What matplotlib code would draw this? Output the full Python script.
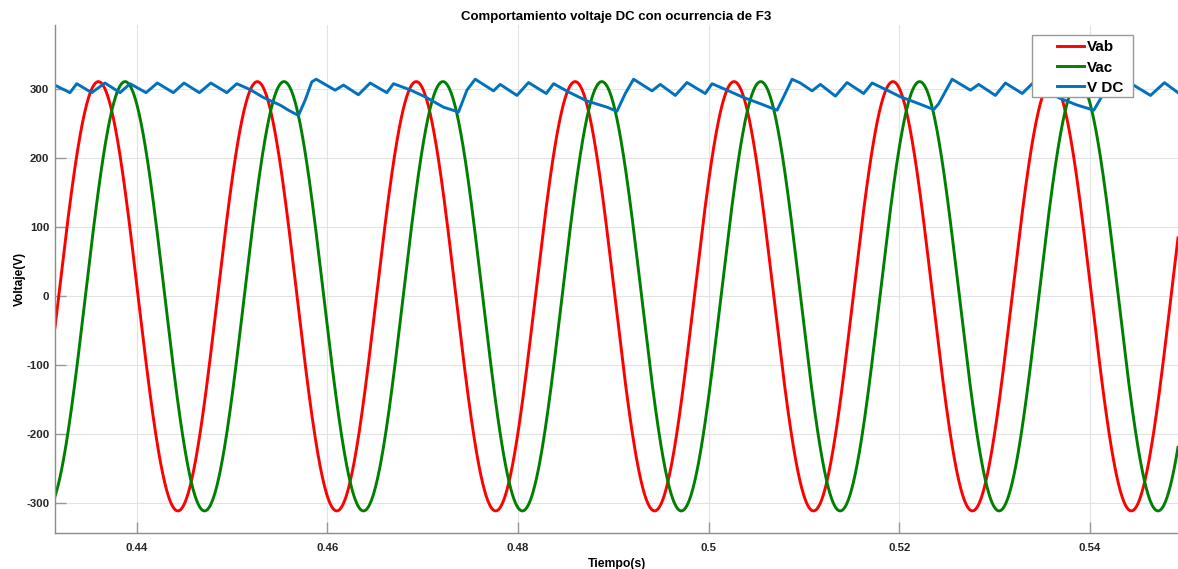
import numpy as np
import matplotlib
matplotlib.use('Agg')
import matplotlib.pyplot as plt
from matplotlib.patches import Rectangle

plt.rcParams['font.family'] = ['Liberation Sans', 'DejaVu Sans']
plt.rcParams['axes.unicode_minus'] = False

# sine parameters
AMPLITUDE = 311.0
FREQ = 60.0
VAB_PEAK = 0.4360
VAC_PEAK = 0.4388
T_START = 0.43145
T_END = 0.54923

# DC bus voltage, read point by point
vdc_t = [0.43145, 0.43302, 0.43373, 0.43530, 0.43669, 0.43827, 0.43932, 0.44100,
         0.44218, 0.44386, 0.44498, 0.44659, 0.44779, 0.44947, 0.45051, 0.45191,
         0.45331, 0.45506, 0.45593, 0.45698, 0.45768, 0.45838, 0.45884, 0.46083,
         0.46170, 0.46327, 0.46450, 0.46625, 0.46695, 0.46870, 0.47027, 0.47219,
         0.47377, 0.47465, 0.47552, 0.47744, 0.47814, 0.47990, 0.48111, 0.48297,
         0.48374, 0.48531, 0.48724, 0.48934, 0.49039, 0.49126, 0.49213, 0.49406,
         0.49493, 0.49651, 0.49773, 0.49965, 0.50036, 0.50193, 0.50367, 0.50543,
         0.50718, 0.50787, 0.50875, 0.50962, 0.51085, 0.51172, 0.51330, 0.51452,
         0.51626, 0.51715, 0.51872, 0.52012, 0.52187, 0.52361, 0.52413, 0.52554,
         0.52746, 0.52833, 0.53008, 0.53113, 0.53289, 0.53394, 0.53544, 0.53690,
         0.53866, 0.54040, 0.54110, 0.54215, 0.54393, 0.54456, 0.54635, 0.54781,
         0.54923]
vdc_v = [305.8, 295, 308, 295, 309, 295, 308, 295,
         309, 295, 309, 295, 309, 295, 308, 299.5,
         288, 277, 269.6, 262, 284, 310.6, 314.5, 298.6,
         306, 292, 309, 295, 308, 299, 289, 274,
         267, 298.6, 314.5, 297.6, 307, 291, 309.7, 293.8,
         308, 296, 283, 274, 268, 293.8, 314.5, 297.6,
         307, 291, 309.7, 293.8, 308, 298.6, 288, 279,
         269.6, 289, 314.5, 309, 297.6, 307, 290, 309.7,
         293.8, 309, 298.6, 289, 280, 270.6, 279, 314.5,
         298.6, 307, 291, 309, 293.8, 308, 297, 286.5,
         277, 269.6, 286, 314.5, 298.6, 306, 291, 309.5,
         295]

x_ticks = [0.44, 0.46, 0.48, 0.5, 0.52, 0.54]
x_tick_labels = ['0.44', '0.46', '0.48', '0.5', '0.52', '0.54']
y_ticks = [-300, -200, -100, 0, 100, 200, 300]

t = np.linspace(T_START, T_END, 4000)
vab = AMPLITUDE * np.cos(2 * np.pi * FREQ * (t - VAB_PEAK))
vac = AMPLITUDE * np.cos(2 * np.pi * FREQ * (t - VAC_PEAK))

fig = plt.figure(figsize=(11.78, 5.69), dpi=100)
ax = fig.add_axes([0.0467, 0.0633, 0.9533, 0.8927])

ax.plot(t, vab, color='#ff0000', lw=2.1, label='Vab')
ax.plot(t, vac, color='#008000', lw=2.1, label='Vac')
ax.plot(vdc_t, vdc_v, color='#0072bd', lw=2.1, label='V DC')

ax.set_xlim(T_START, T_END)
ax.set_ylim(-343, 393)
ax.set_xticks(x_ticks)
ax.set_xticklabels(x_tick_labels)
ax.set_yticks(y_ticks)

ax.grid(True, color='0.89', lw=0.8)
ax.set_axisbelow(True)
for s in ['top', 'right']:
    ax.spines[s].set_visible(False)
for s in ['left', 'bottom']:
    ax.spines[s].set_color('0.55')
    ax.spines[s].set_linewidth(1.0)
ax.tick_params(direction='in', length=8, width=1, color='0.6',
               labelsize=8.2, labelcolor='0.15')
ax.tick_params(axis='x', pad=7)
ax.tick_params(axis='y', pad=4)
for lab in ax.get_xticklabels() + ax.get_yticklabels():
    lab.set_fontweight('bold')

ax.set_title('Comportamiento voltaje DC con ocurrencia de F3',
             fontsize=9.5, fontweight='bold', pad=3.8)
ax.set_xlabel('Tiempo(s)', fontsize=8.8, fontweight='bold', labelpad=4)
ax.set_ylabel('Voltaje(V)', fontsize=8.6, fontweight='bold', labelpad=0.5)

# legend box drawn by hand so the padding matches the original
ax.add_patch(Rectangle((0.8700, 0.8583), 0.0899, 0.1220, transform=ax.transAxes,
                       facecolor='white', edgecolor='0.6', lw=1.0, zorder=4))
leg = ax.legend(loc='upper left', bbox_to_anchor=(0.8851, 0.9850),
                prop={'weight': 'bold', 'size': 11}, frameon=False,
                borderpad=0, handlelength=1.8, handletextpad=0.2,
                labelspacing=0.41)
leg.set_zorder(5)

fig.savefig('out.png', dpi=100)
